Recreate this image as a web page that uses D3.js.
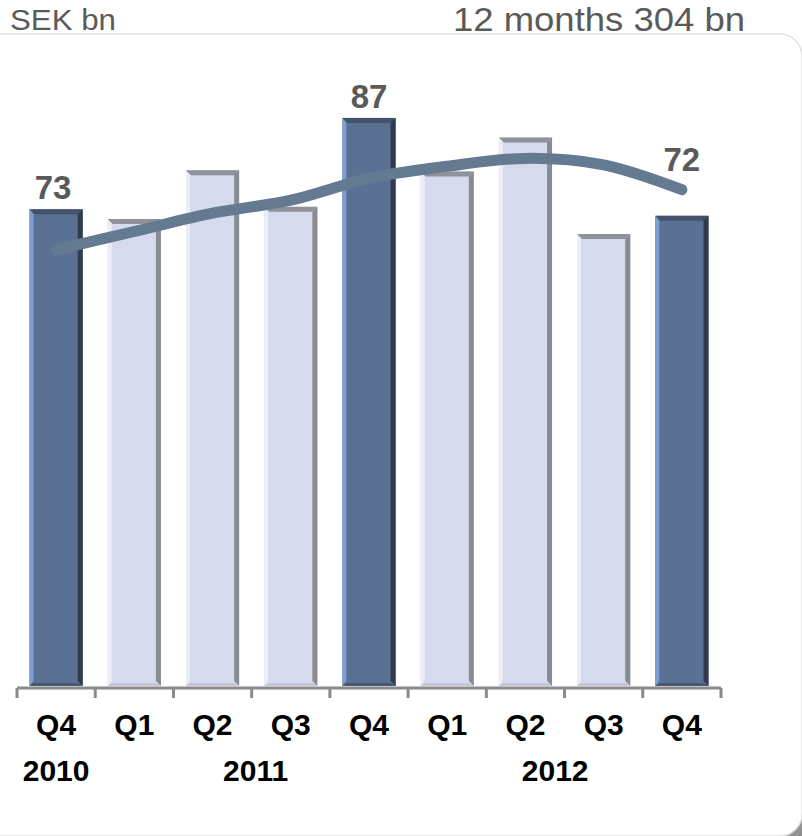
<!DOCTYPE html>
<html>
<head>
<meta charset="utf-8">
<script src="https://cdn.jsdelivr.net/npm/d3@7"></script>
<style>
  html, body { margin: 0; padding: 0; background: #ffffff; }
  svg { display: block; }
  text { font-family: "Liberation Sans", Arial, sans-serif; }
</style>
</head>
<body>
<svg id="chart" width="802" height="836"></svg>
<script>
// Quarterly net sales, SEK bn
const quarters = ["Q4", "Q1", "Q2", "Q3", "Q4", "Q1", "Q2", "Q3", "Q4"];
const quarterYears = ["2010", "2011", "2011", "2011", "2011", "2012", "2012", "2012", "2012"];
const sales = [73, 71.5, 79, 73.4, 87, 78.8, 84, 69.2, 72];
// Rolling 12-month sales expressed per quarter (SEK bn)
const rolling = [66.8, 69.6, 72.4, 74.4, 77.75, 79.6, 80.8, 79.8, 76.0];
const yearLabels = ["2010", "2011", "2012"];
const unitLabel = "SEK bn";
const totalLabel = "12 months 304 bn";

// Layout
const axisY = 688;
const yearAnchor = { "2010": 0, "2011": 2.55, "2012": 6.38 }; // band index where each year caption sits

const svg = d3.select("#chart");

// Panel with a soft corner shadow
const defs = svg.append("defs");
const sh = defs.append("linearGradient").attr("id", "cornerShade")
  .attr("x1", 0).attr("y1", 0).attr("x2", 1).attr("y2", 1);
sh.append("stop").attr("offset", "0%").attr("stop-color", "#d0d0d0");
sh.append("stop").attr("offset", "100%").attr("stop-color", "#8a8a8a");
svg.append("rect").attr("x", 770).attr("y", 804).attr("width", 32).attr("height", 32)
  .attr("fill", "url(#cornerShade)");
svg.append("rect")
  .attr("x", -24).attr("y", 34).attr("width", 826).attr("height", 802).attr("rx", 22)
  .attr("fill", "#ffffff").attr("stroke", "#e2e2e2").attr("stroke-width", 1.5);

// Header
svg.append("text").attr("x", 10).attr("y", 30)
  .attr("font-size", 30).attr("fill", "#5a5a5a")
  .attr("textLength", 106).attr("lengthAdjust", "spacingAndGlyphs")
  .text(unitLabel);
svg.append("text").attr("x", 745).attr("y", 31).attr("text-anchor", "end")
  .attr("font-size", 33).attr("fill", "#5a5a5a")
  .attr("textLength", 292).attr("lengthAdjust", "spacingAndGlyphs")
  .text(totalLabel);

// Scales
const x = d3.scaleBand().domain(d3.range(quarters.length))
  .range([17, 721]).paddingInner(0.32).paddingOuter(0.16);
const y = d3.scaleLinear().domain([0, 100]).range([686, 33]);

const isYearEnd = (i) => quarters[i] === "Q4";

const palette = {
  dark:  { fill: "#5a7194", top: "#42526b", right: "#303c4d", left: "#7d9ed0", bottom: "#485870" },
  light: { fill: "#d6daed", top: "#909298", right: "#888b92", left: "#eceef7", bottom: "#c3c6d6" }
};

// Bevelled bars
svg.append("g").selectAll("g").data(sales).join("g")
  .each(function (v, i) {
    const g = d3.select(this);
    const c = isYearEnd(i) ? palette.dark : palette.light;
    const x0 = x(i), w = x.bandwidth();
    const y0 = y(v), h = y(0) - y(v);
    const b = 5;
    g.append("rect").attr("x", x0).attr("y", y0).attr("width", w).attr("height", h).attr("fill", c.fill);
    const poly = (pts, fill) => g.append("polygon").attr("points", pts.map(p => p.join(",")).join(" ")).attr("fill", fill);
    poly([[x0, y0], [x0 + w, y0], [x0 + w - b, y0 + b], [x0 + b, y0 + b]], c.top);
    poly([[x0 + w, y0], [x0 + w, y0 + h], [x0 + w - b, y0 + h - b], [x0 + w - b, y0 + b]], c.right);
    poly([[x0, y0], [x0 + b - 1, y0 + b], [x0 + b - 1, y0 + h - b], [x0, y0 + h]], c.left);
    poly([[x0, y0 + h], [x0 + b - 1, y0 + h - 3], [x0 + w - b, y0 + h - 3], [x0 + w, y0 + h]], c.bottom);
  });

// Rolling 12-month line
const line = d3.line()
  .x((d, i) => x(i) + x.bandwidth() / 2)
  .y(d => y(d))
  .curve(d3.curveCardinal.tension(0));
svg.append("path").datum(rolling)
  .attr("d", line)
  .attr("fill", "none").attr("stroke", "#647a91").attr("stroke-width", 11)
  .attr("stroke-linecap", "round").attr("stroke-linejoin", "round");

// Value labels on year-end quarters
const fmt = d3.format(".0f");
const last = sales.length - 1;
svg.append("g").selectAll("text")
  .data(sales.map((v, i) => ({ v, i })).filter(d => isYearEnd(d.i)))
  .join("text")
  .attr("x", d => x(d.i) + x.bandwidth() / 2 - (d.i === 0 ? 3 : 0))
  .attr("y", d => d.i === last ? y(rolling[last]) - 19 : y(d.v) - 10)
  .attr("text-anchor", "middle")
  .attr("font-size", 33).attr("font-weight", "bold").attr("fill", "#595959")
  .text(d => fmt(d.v));

// Category axis
const axis = svg.append("g");
axis.append("line")
  .attr("x1", x.range()[0]).attr("x2", x.range()[1])
  .attr("y1", axisY).attr("y2", axisY)
  .attr("stroke", "#8a8a8a").attr("stroke-width", 3);
axis.selectAll(".tick").data(d3.range(quarters.length + 1)).join("line")
  .attr("class", "tick")
  .attr("x1", i => x.range()[0] + i * x.step()).attr("x2", i => x.range()[0] + i * x.step())
  .attr("y1", axisY).attr("y2", axisY + 10)
  .attr("stroke", "#8a8a8a").attr("stroke-width", 3);
axis.selectAll(".qlabel").data(quarters).join("text")
  .attr("class", "qlabel")
  .attr("x", (d, i) => x(i) + x.bandwidth() / 2)
  .attr("y", 735)
  .attr("text-anchor", "middle")
  .attr("font-size", 30).attr("font-weight", "bold").attr("fill", "#000")
  .text(d => d);
const centerAt = (k) => {
  const lo = Math.floor(k), f = k - lo;
  const c = (i) => x(i) + x.bandwidth() / 2;
  return f === 0 ? c(lo) : c(lo) + f * (c(lo + 1) - c(lo));
};
axis.selectAll(".ylabel").data(yearLabels).join("text")
  .attr("class", "ylabel")
  .attr("x", d => centerAt(yearAnchor[d]))
  .attr("y", 781)
  .attr("text-anchor", "middle")
  .attr("font-size", 30).attr("font-weight", "bold").attr("fill", "#000")
  .text(d => d);
</script>
</body>
</html>
